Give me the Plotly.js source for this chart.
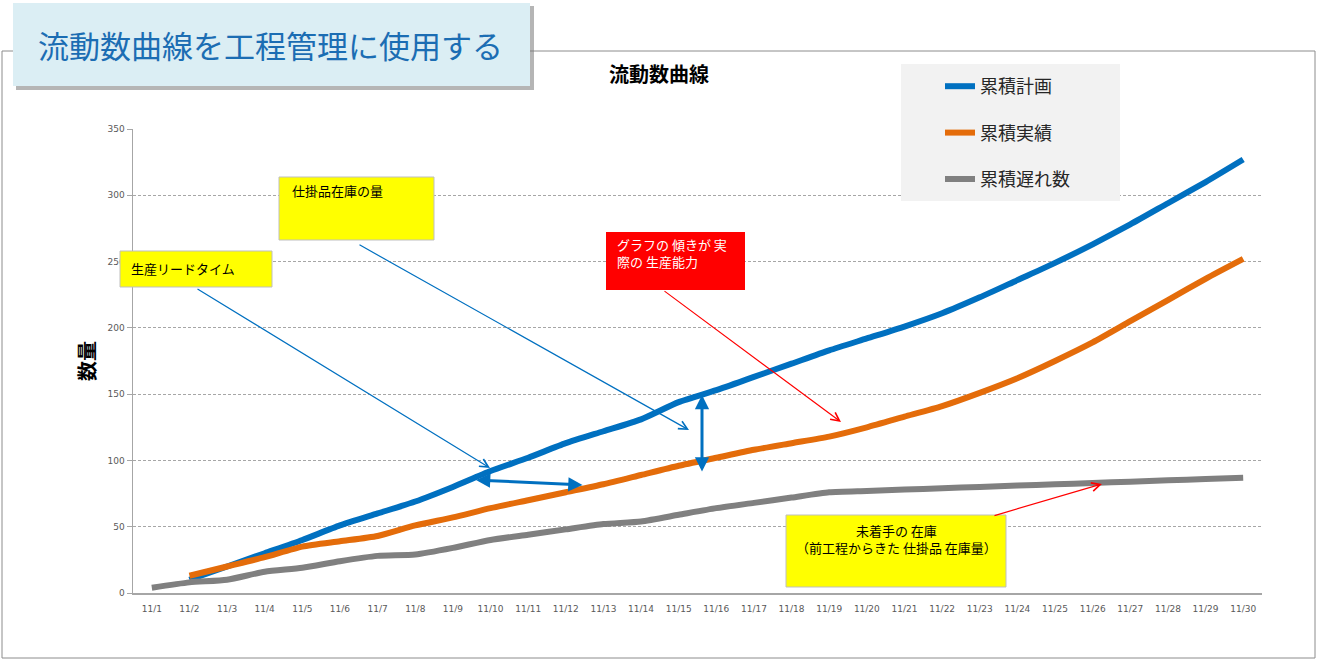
<!DOCTYPE html>
<html>
<head>
<meta charset="utf-8">
<script src="https://cdn.plot.ly/plotly-3.0.1.min.js"></script>
<style>
html,body{margin:0;padding:0;background:#fff;}
#chart{width:1317px;height:660px;}
</style>
</head>
<body>
<div id="chart"></div>
<script>
// ---- data ----
const dates = ['11/1','11/2','11/3','11/4','11/5','11/6','11/7','11/8','11/9','11/10',
  '11/11','11/12','11/13','11/14','11/15','11/16','11/17','11/18','11/19','11/20',
  '11/21','11/22','11/23','11/24','11/25','11/26','11/27','11/28','11/29','11/30'];
const planCum   = [null,10,20,30,40,51,60,69,80,92,102,113,122,131,144,153,163,173,183,192,201,211,223,236,249,263,278,294,310,327];
const actualCum = [null,13,20,27,35,39,43,51,57,64,70,76,82,89,96,102,108,113,118,125,133,141,151,162,175,189,205,221,237,252];
const delayCum  = [4,8,10,16,19,24,28,29,34,40,44,48,52,54,59,64,68,72,76,77,78,79,80,81,82,83,84,85,86,87];
const seriesNames = ['累積計画','累積実績','累積遅れ数'];
const headerTitle = '流動数曲線を工程管理に使用する';
const chartTitle = '流動数曲線';
const yAxisTitle = '数量';
const noteWip = '仕掛品在庫の量';
const noteLead = '生産リードタイム';
const noteSlope = 'グラフの 傾きが 実<br>際の 生産能力';
const noteQueue = '未着手の 在庫<br>（前工程からきた 仕掛品 在庫量）';

// ---- layout helpers (pixel -> paper) ----
const L = 133, R = 1262, T = 129, B = 593;
const PX = x => (x - L) / (R - L);
const PY = y => (B - y) / (B - T);
const CJK = '"Noto Sans CJK JP", "Noto Sans", sans-serif';
const BLUE = '#0070C0', ORANGE = '#E46C0A', GRAY = '#808080';

const colors = [BLUE, ORANGE, GRAY];
const values = [planCum, actualCum, delayCum];
const traces = values.map((v, i) => ({
  type: 'scatter', mode: 'lines', x: dates, y: v, name: seriesNames[i],
  legendgroup: 'g' + i,
  line: {color: colors[i], width: 6, shape: 'spline', smoothing: 0.6},
  connectgaps: false, hoverinfo: 'x+y'
}));

function rect(x0, y0, x1, y1, fill, lineColor, lw) {
  return {type: 'rect', xref: 'paper', yref: 'paper', layer: 'above',
    x0: PX(x0), x1: PX(x1), y0: PY(y1), y1: PY(y0),
    fillcolor: fill, line: {color: lineColor || fill, width: lw === undefined ? 1 : lw}};
}
function arrow(tx, ty, hx, hy, color, width, head, size, both) {
  const a = {xref: 'paper', yref: 'paper', x: PX(hx), y: PY(hy),
    ax: tx - hx, ay: ty - hy, text: '', showarrow: true,
    arrowcolor: color, arrowwidth: width, arrowhead: head, arrowsize: size,
    standoff: 0, startstandoff: 0};
  if (both) { a.arrowside = 'end+start'; a.startarrowhead = head; a.startarrowsize = size; }
  return a;
}
function label(x, y, text, opts) {
  return Object.assign({xref: 'paper', yref: 'paper', x: PX(x), y: PY(y), text: text,
    showarrow: false, xanchor: 'left', yanchor: 'middle', align: 'left',
    font: {family: CJK, size: 13, color: '#000'}}, opts || {});
}

const shapes = [
  // outer chart frame
  rect(2, 51, 1315, 658, 'rgba(0,0,0,0)', '#8C8C8C', 1),
  // header shadow + box
  rect(16, 6, 534, 90, 'rgba(120,120,120,0.55)', 'rgba(0,0,0,0)', 0),
  rect(13, 3, 530, 86, '#DBEEF4', '#DBEEF4', 0),
  // legend background
  rect(901, 64, 1120, 201, '#F2F2F2', '#F2F2F2', 0),
  // note boxes
  rect(279, 177, 434, 240, '#FFFF00', '#BFBFBF', 1),
  rect(120, 251, 272, 287, '#FFFF00', '#BFBFBF', 1),
  rect(606, 232, 745, 290, '#FF0000', '#FF0000', 0),
  rect(786, 515, 1006, 587, '#FFFF00', '#BFBFBF', 1)
];

const annotations = [
  label(270, 44, headerTitle, {xanchor: 'center', font: {family: CJK, size: 31, color: '#1B6DB3'}}),
  label(290, 190, noteWip),
  label(129, 268, noteLead),
  label(615, 253, noteSlope, {font: {family: CJK, size: 13, color: '#FFFFFF'}}),
  label(896, 539, noteQueue, {xanchor: 'center', align: 'center'}),
  arrow(196, 288, 490, 468, BLUE, 1.2, 5, 1.4),
  arrow(358, 244, 689, 430, BLUE, 1.2, 5, 1.4),
  arrow(663, 290, 841, 422, '#FF0000', 1.2, 5, 1.4),
  arrow(993, 516, 1102, 484, '#FF0000', 1.2, 5, 1.4),
  arrow(584, 485, 476, 480, BLUE, 3, 2, 0.95, true),
  arrow(702, 473, 702, 395, BLUE, 3, 2, 0.95, true)
];

const layout = {
  width: 1317, height: 660,
  margin: {l: L, r: 1317 - R, t: T, b: 660 - B, pad: 0},
  paper_bgcolor: '#FFFFFF', plot_bgcolor: '#FFFFFF',
  title: {text: chartTitle, x: 659 / 1317, xanchor: 'center', xref: 'container', y: 1 - 75 / 660, yanchor: 'middle',
    font: {family: CJK, size: 20, weight: 700, color: '#000'}},
  xaxis: {type: 'category', range: [-0.5, 29.5], showgrid: false, zeroline: false,
    showline: true, linecolor: '#A6A6A6', linewidth: 1.5, ticks: '', ticklabelstandoff: 7,
    tickfont: {family: 'DejaVu Sans, Verdana, sans-serif', size: 9, color: '#595959'}, fixedrange: true},
  yaxis: {range: [0, 350], dtick: 50, showgrid: true, gridcolor: '#A6A6A6', griddash: '3px,2px', gridwidth: 1,
    zeroline: false, showline: true, linecolor: '#A6A6A6', linewidth: 1.5,
    ticks: 'outside', ticklen: 5, tickcolor: '#A6A6A6',
    tickfont: {family: 'DejaVu Sans, Verdana, sans-serif', size: 9, color: '#595959'},
    title: {text: yAxisTitle, standoff: 6, font: {family: CJK, size: 20, weight: 700, color: '#000'}},
    fixedrange: true},
  legend: {x: PX(940), y: PY(68), xanchor: 'left', yanchor: 'top', bgcolor: 'rgba(0,0,0,0)',
    traceorder: 'grouped', tracegroupgap: 20, itemwidth: 30,
    font: {family: CJK, size: 18, color: '#262626'}},
  showlegend: true,
  shapes: shapes,
  annotations: annotations,
  hovermode: false
};

Plotly.newPlot('chart', traces, layout, {displayModeBar: false, staticPlot: true});
</script>
</body>
</html>
